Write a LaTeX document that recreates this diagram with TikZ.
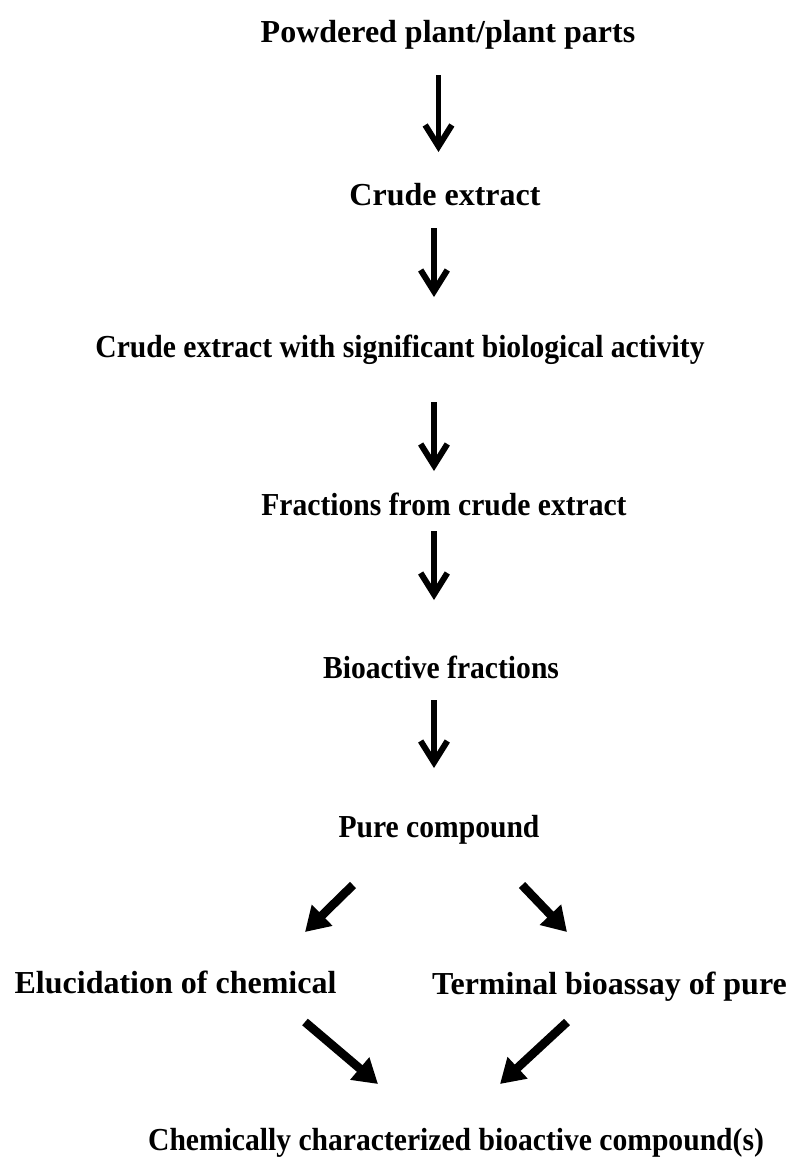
\documentclass[tikz,border=0pt]{standalone}
\usepackage{fontspec}
\usepackage{graphicx}
\setmainfont{Liberation Serif}
\usetikzlibrary{arrows.meta}
\newcommand{\cond}[1]{\scalebox{0.925}[1]{#1}}
\begin{document}
\begin{tikzpicture}[x=0.75pt,y=-0.75pt,
  lbl/.style={font=\bfseries\fontsize{24}{28}\selectfont, inner sep=0pt, anchor=base},
  vflow/.style={line width=3.8pt, -{Straight Barb[length=16pt,width=20pt,line width=4.5pt]}},
  dflow/.style={line width=6.5pt, -{Triangle[length=18pt,width=21pt]}}]
\useasboundingbox (0,0) rectangle (793,1161);
\node[lbl] (p1) at (448,42) {Powdered plant/plant parts};
\node[lbl] (p2) at (445,205) {Crude extract};
\node[lbl] (p3) at (400,357) {\cond{Crude extract with significant biological activity}};
\node[lbl] (p4) at (444,515) {\cond{Fractions from crude extract}};
\node[lbl] (p5) at (441,678) {\cond{Bioactive fractions}};
\node[lbl] (p6) at (439,837) {\cond{Pure compound}};
\node[lbl] (l) at (175.5,993) {Elucidation of chemical};
\node[lbl] (r) at (609.5,994) {Terminal bioassay of pure};
\node[lbl] (f) at (456,1150) {\cond{Chemically characterized bioactive compound(s)}};
\coordinate (a1s) at (438.5,75);  \coordinate (a1e) at (438.5,152);
\coordinate (a2s) at (434,228); \coordinate (a2e) at (434,297);
\coordinate (a3s) at (434,402); \coordinate (a3e) at (434,471);
\coordinate (a4s) at (434,531); \coordinate (a4e) at (434,600);
\coordinate (a5s) at (434,700); \coordinate (a5e) at (434,768);
\draw[vflow] (a1s) -- (a1e);
\draw[vflow] (a2s) -- (a2e);
\draw[vflow] (a3s) -- (a3e);
\draw[vflow] (a4s) -- (a4e);
\draw[vflow] (a5s) -- (a5e);
\coordinate (dls) at (353,885); \coordinate (dle) at (305,932);
\coordinate (drs) at (522,885); \coordinate (dre) at (567,932);
\coordinate (bls) at (305,1022); \coordinate (ble) at (378,1084);
\coordinate (brs) at (567,1022); \coordinate (bre) at (500,1084);
\draw[dflow] (dls) -- (dle);
\draw[dflow] (drs) -- (dre);
\draw[dflow] (bls) -- (ble);
\draw[dflow] (brs) -- (bre);
\end{tikzpicture}
\end{document}
